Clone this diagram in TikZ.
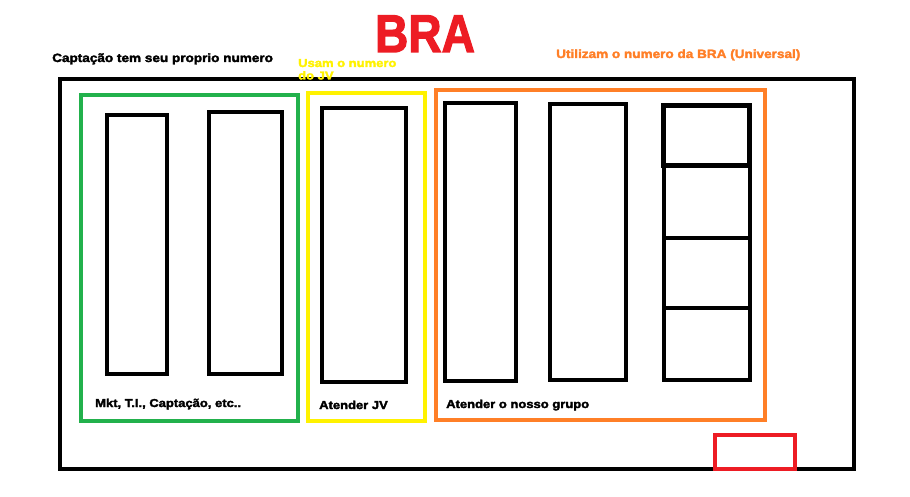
\documentclass[tikz,border=0pt]{standalone}
\usepackage{fontspec}
\setmainfont{Liberation Sans}
\newfontfamily\heavy[FakeBold=2.5,FakeStretch=1.13]{Liberation Sans Bold}
\definecolor{pgreen}{RGB}{34,177,76}
\definecolor{pyellow}{RGB}{255,242,0}
\definecolor{porange}{RGB}{255,127,39}
\definecolor{pred}{RGB}{237,28,36}
\tikzset{
  frame/.style={draw, line width=4pt, inner sep=0pt, outer sep=0pt, anchor=north west},
  lbl/.style={anchor=base west, inner sep=0pt, font=\heavy\fontsize{11.5}{13}\selectfont},
}
\newcommand{\boxat}[6]{% name, style, x1, y1, x2, y2
  \node[frame,#2, minimum width={(#5-#3)*1pt}, minimum height={(#6-#4)*1pt}] (#1) at (#3,#4) {};}
\begin{document}
\begin{tikzpicture}[x=1pt,y=-1pt]
\useasboundingbox[fill=white] (0,0) rectangle (910,497);
% outer frame
\boxat{outer}{black}{60}{79}{854}{469}
% group frames
\boxat{green}{pgreen}{81}{95.5}{298}{421}
\boxat{yellow}{pyellow}{307.5}{93.5}{424.5}{421}
\boxat{orange}{porange}{435.5}{90.5}{764.5}{420}
\boxat{redbox}{pred}{715}{435}{795}{469}
% inner columns
\boxat{g1}{black}{106.5}{115}{166.5}{373.5}
\boxat{g2}{black}{208.5}{112}{281.5}{373.5}
\boxat{y1}{black}{322}{108.5}{406}{382}
\boxat{o1}{black}{445}{103.5}{515.5}{381}
\boxat{o2}{black}{550}{104.5}{625.5}{380}
\boxat{c1}{black,line width=5pt}{663.5}{105.5}{749.5}{165.5}
\boxat{c2}{black}{663.5}{165.5}{749.5}{237.5}
\boxat{c3}{black}{663.5}{237.5}{749.5}{308}
\boxat{c4}{black}{663.5}{308}{749.5}{379.5}
% texts
\node[anchor=base, inner sep=0pt, text=pred, font=\heavy\fontsize{53}{53}\selectfont] (title) at (425,52) {\scalebox{0.77}[1]{BRA}};
\node[lbl, font=\heavy\fontsize{12}{13}\selectfont] (tcap) at (52,62) {Captação tem seu proprio numero};
\node[lbl, text=pyellow, align=left, font=\heavy\fontsize{11.5}{12.5}\selectfont] (tjv) at (298,79.5) {Usam o numero\\do JV};
\node[lbl, text=porange, font=\heavy\fontsize{12}{13}\selectfont] (tbra) at (556,58) {Utilizam o numero da BRA (Universal)};
\node[lbl] (lmkt) at (95,407) {Mkt, T.I., Captação, etc..};
\node[lbl] (ljv) at (319,409) {Atender JV};
\node[lbl] (lgrp) at (446,408) {Atender o nosso grupo};
\end{tikzpicture}
\end{document}
